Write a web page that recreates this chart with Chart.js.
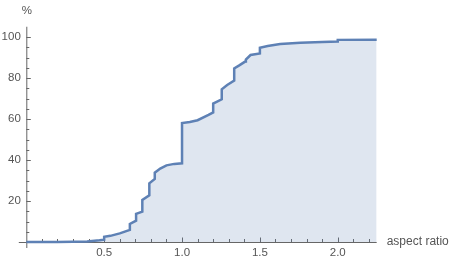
<!DOCTYPE html>
<html>
<head>
<meta charset="utf-8">
<script src="https://cdn.jsdelivr.net/npm/chart.js@4/dist/chart.umd.min.js"></script>
<style>
  html, body { margin: 0; padding: 0; background: #fff; }
  #wrap { width: 455px; height: 262px; }
</style>
</head>
<body>
<div id="wrap"><canvas id="chart"></canvas></div>
<script>
// step-ish cumulative curve
const ratio = [0, 0.2, 0.3, 0.39, 0.47, 0.5, 0.5, 0.54, 0.6, 0.665, 0.665, 0.705, 0.705,
  0.745, 0.745, 0.79, 0.79, 0.825, 0.825, 0.86, 0.9, 0.95, 1.0, 1.0, 1.05, 1.1, 1.17,
  1.2, 1.2, 1.255, 1.255, 1.29, 1.335, 1.335, 1.37, 1.405, 1.41, 1.44, 1.5, 1.5, 1.55,
  1.63, 1.76, 1.9, 2.0, 2.0, 2.25];
const percent = [0, 0, 0.1, 0.3, 0.8, 1.1, 2.5, 3.0, 4.2, 5.9, 8.8, 10.4, 13.7,
  14.8, 20.5, 22.8, 28.6, 30.8, 33.8, 35.8, 37.4, 38.1, 38.4, 58.0, 58.5, 59.4, 62.0,
  63.2, 67.5, 69.6, 74.5, 76.6, 78.7, 84.7, 86.3, 88.0, 89.0, 91.2, 92.0, 94.8, 95.6,
  96.6, 97.2, 97.6, 97.8, 98.6, 98.7];
const xTickLabels = [0.5, 1.0, 1.5, 2.0];
const yTickLabels = [20, 40, 60, 80, 100];
const xTitle = "aspect ratio";
const yTitle = "%";

const FONT = "'Liberation Sans', Arial, sans-serif";
const TEXT = "#555";
const AXIS = "#666";

let points = ratio.map((r, i) => ({ x: r, y: percent[i] }));

// mathematica style axes: inward ticks, small overhang at the corner
const axesPlugin = {
  id: "axes",
  beforeDatasetsDraw(chart) {
    let ctx = chart.ctx;
    let xs = chart.scales.x, ys = chart.scales.y;
    let x0 = xs.getPixelForValue(0);
    let y0 = ys.getPixelForValue(0);
    ctx.save();
    ctx.strokeStyle = AXIS;
    ctx.lineWidth = 1;
    ctx.beginPath();
    ctx.moveTo(x0 - 7.5, y0 + 0.5);
    ctx.lineTo(xs.getPixelForValue(2.25), y0 + 0.5);
    ctx.moveTo(x0 + 0.5, ys.getPixelForValue(105));
    ctx.lineTo(x0 + 0.5, y0 + 6);
    for (let i = 1; i <= 22; i++) {
      let px = Math.round(xs.getPixelForValue(i / 10)) + 0.5;
      let len = i % 5 === 0 ? 4.5 : 3;
      ctx.moveTo(px, y0);
      ctx.lineTo(px, y0 - len);
    }
    for (let v = 5; v <= 100; v += 5) {
      let py = Math.round(ys.getPixelForValue(v)) + 0.5;
      let len = v % 20 === 0 ? 4.5 : 3;
      ctx.moveTo(x0, py);
      ctx.lineTo(x0 + len, py);
    }
    ctx.stroke();

    ctx.fillStyle = TEXT;
    ctx.font = "11.5px " + FONT;
    ctx.textAlign = "center";
    ctx.textBaseline = "middle";
    ctx.fillText(yTitle, x0 + 0.5, 11);
    ctx.font = "12px " + FONT;
    ctx.textAlign = "left";
    ctx.fillText(xTitle, xs.getPixelForValue(2.25) + 10, y0);
    ctx.restore();
  }
};

new Chart(document.getElementById("chart"), {
  type: "line",
  data: {
    datasets: [{
      data: points,
      borderColor: "#5E81B5",
      backgroundColor: "rgba(94,129,181,0.2)",
      borderWidth: 2.5,
      pointRadius: 0,
      tension: 0,
      fill: "origin",
      clip: false
    }]
  },
  options: {
    responsive: true,
    maintainAspectRatio: false,
    animation: false,
    layout: { padding: { left: 0, top: 26.75, right: 78.3, bottom: 0 } },
    plugins: { legend: { display: false }, tooltip: { enabled: false } },
    scales: {
      x: {
        type: "linear",
        min: 0,
        max: 2.25,
        grid: { display: false, drawTicks: false },
        border: { display: false },
        afterFit: s => { s.height = 20; },
        ticks: {
          stepSize: 0.5,
          includeBounds: false,
          autoSkip: false,
          maxRotation: 0,
          padding: 4,
          color: TEXT,
          font: { family: FONT, size: 11.5 },
          callback: v => xTickLabels.includes(v) ? v.toFixed(1) : ""
        }
      },
      y: {
        min: 0,
        max: 105,
        grid: { display: false, drawTicks: false },
        border: { display: false },
        afterFit: s => { s.width = 26.3; },
        ticks: {
          stepSize: 20,
          includeBounds: false,
          autoSkip: false,
          padding: 5.5,
          color: TEXT,
          font: { family: FONT, size: 11.5 },
          callback: v => yTickLabels.includes(v) ? String(v) : ""
        }
      }
    }
  },
  plugins: [axesPlugin]
});
</script>
</body>
</html>
